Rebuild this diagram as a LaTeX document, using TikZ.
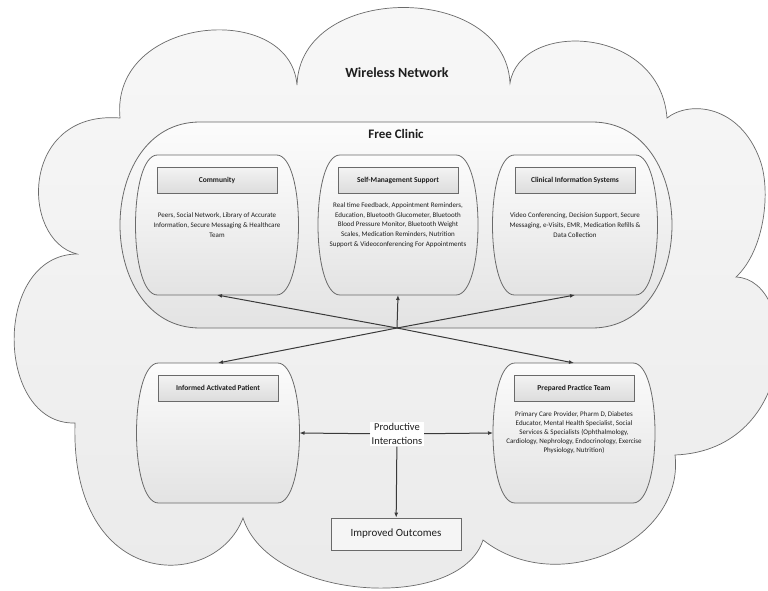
\documentclass[tikz,border=0pt]{standalone}
\usepackage{fontspec}
\setmainfont{Carlito}
\usetikzlibrary{positioning,arrows.meta}

\definecolor{lineGray}{HTML}{6A6A6A}
\definecolor{arrowGray}{HTML}{3A3A3A}
\definecolor{cloudTop}{HTML}{F8F8F8}
\definecolor{cloudBot}{HTML}{EAEAEA}
\definecolor{pillTop}{HTML}{FCFCFC}
\definecolor{pillBot}{HTML}{E3E3E3}
\definecolor{headTop}{HTML}{F3F3F3}
\definecolor{headBot}{HTML}{DCDCDC}
\definecolor{inkGray}{HTML}{1E1E1E}

% barrel outline round an empty node: [style] node, inset of the flat top
\newcommand\barrel[3][]{%
  \path[#1] ([xshift=#3]#2.north west) -- ([xshift=-#3]#2.north east)
    .. controls ([xshift=#3/3]#2.north east) and ([xshift=#3/3]#2.south east)
    .. ([xshift=-#3]#2.south east) -- ([xshift=#3]#2.south west)
    .. controls ([xshift=-#3/3]#2.south west) and ([xshift=-#3/3]#2.north west)
    .. cycle;}

\begin{document}
\begin{tikzpicture}[x=1pt, y=-1pt,
    frame/.style={inner sep=0, outer sep=0},
    pillbody/.style={draw=lineGray, line width=0.8pt, top color=pillTop, bottom color=pillBot},
    headbox/.style={draw=lineGray, line width=0.7pt, top color=headTop, bottom color=headBot, anchor=north,
      minimum width=120, minimum height=26, text=inkGray, font=\fontsize{7.5}{9}\selectfont\bfseries},
    bodytext/.style={align=center, text=inkGray, font=\fontsize{7}{9.6}\selectfont},
    title/.style={text=inkGray, font=\fontsize{14}{16}\selectfont\bfseries},
    flow/.style={draw=arrowGray, line width=1pt, -{Latex[length=5pt, width=4pt]}},
    talk/.style={fill=white, align=center, text=inkGray, inner sep=1.5pt, font=\fontsize{10.5}{14.5}\selectfont},
    result/.style={draw=lineGray, line width=0.8pt, fill=white!96!black, minimum width=130,
      minimum height=32, text=inkGray, font=\fontsize{11}{13}\selectfont}]
  \clip (0,0) rectangle (768,591);
  \fill[white] (0,0) rectangle (768,591);

  % wireless network cloud
  \path[draw=lineGray, line width=0.7pt, top color=cloudTop, bottom color=cloudBot] (120,118)
    .. controls (110,15) and (290,0) .. (297,85)
    .. controls (300,-18) and (505,-18) .. (510,83)
    .. controls (520,20) and (660,25) .. (667,118)
    .. controls (690,100) and (740,105) .. (760,160)
    .. controls (771,190) and (765,250) .. (736,277)
    .. controls (800,280) and (800,450) .. (675,455)
    .. controls (685,540) and (560,600) .. (483,540)
    .. controls (460,612) and (270,602) .. (243,518)
    .. controls (215,592) and (70,592) .. (75,423)
    .. controls (-5,425) and (-8,255) .. (77,254)
    .. controls (20,240) and (20,110) .. cycle;
  \node[title] (wireless) at (397,73) {Wireless Network};

  % free clinic
  \node[frame, minimum width=552, minimum height=206] (clinic) at (396,225) {};
  \barrel[pillbody]{clinic}{80}
  \node[title, font=\fontsize{13}{15}\selectfont\bfseries] (clinicTitle) at (396,134) {Free Clinic};

  \node[frame, minimum width=163, minimum height=140] (community) at (217,225) {};
  \barrel[pillbody]{community}{22}
  \node[headbox] (communityHead) at ([yshift=-12pt]community.north) {Community};
  \node[bodytext] (communityText) at (community.center)
    {Peers, Social Network, Library of Accurate\\Information, Secure Messaging \& Healthcare\\Team};

  \node[frame, minimum width=160, minimum height=140] (selfmgmt) at (398,225) {};
  \barrel[pillbody]{selfmgmt}{22}
  \node[headbox] (selfmgmtHead) at ([yshift=-12pt]selfmgmt.north) {Self-Management Support};
  \node[bodytext] (selfmgmtText) at (selfmgmt.center)
    {Real time Feedback, Appointment Reminders,\\Education, Bluetooth Glucometer, Bluetooth\\Blood Pressure Monitor, Bluetooth Weight\\Scales, Medication Reminders, Nutrition\\Support \& Videoconferencing For Appointments};

  \node[frame, minimum width=165, minimum height=140] (clinical) at (575,225) {};
  \barrel[pillbody]{clinical}{22}
  \node[headbox] (clinicalHead) at ([yshift=-12pt]clinical.north) {Clinical Information Systems};
  \node[bodytext] (clinicalText) at (clinical.center)
    {Video Conferencing, Decision Support, Secure\\Messaging, e-Visits, EMR, Medication Refills \&\\Data Collection};

  % patient and team
  \node[frame, minimum width=163, minimum height=140] (patient) at (218,433) {};
  \barrel[pillbody]{patient}{22}
  \node[headbox] (patientHead) at ([yshift=-12pt]patient.north) {Informed Activated Patient};

  \node[frame, minimum width=162, minimum height=140] (team) at (574,433) {};
  \barrel[pillbody]{team}{22}
  \node[headbox] (teamHead) at ([yshift=-12pt]team.north) {Prepared Practice Team};
  \node[bodytext, font=\fontsize{7}{9}\selectfont] (teamText) at (574,433)
    {Primary Care Provider, Pharm D, Diabetes\\Educator, Mental Health Specialist, Social\\Services \& Specialists (Ophthalmology,\\Cardiology, Nephrology, Endocrinology, Exercise\\Physiology, Nutrition)};

  \coordinate (hub) at (397,328);
  \foreach \to in {community.south, selfmgmt.south, clinical.south, patient.north, team.north}
    \draw[flow] (hub) -- (\to);

  \node[talk] (productive) at (397,434) {Productive\\Interactions};
  \node[result] (outcomes) at (396,534) {Improved Outcomes};
  \draw[flow] (productive) -- (patient.east);
  \draw[flow] (productive) -- (team.west);
  \draw[flow] (productive) -- (outcomes);
\end{tikzpicture}
\end{document}
